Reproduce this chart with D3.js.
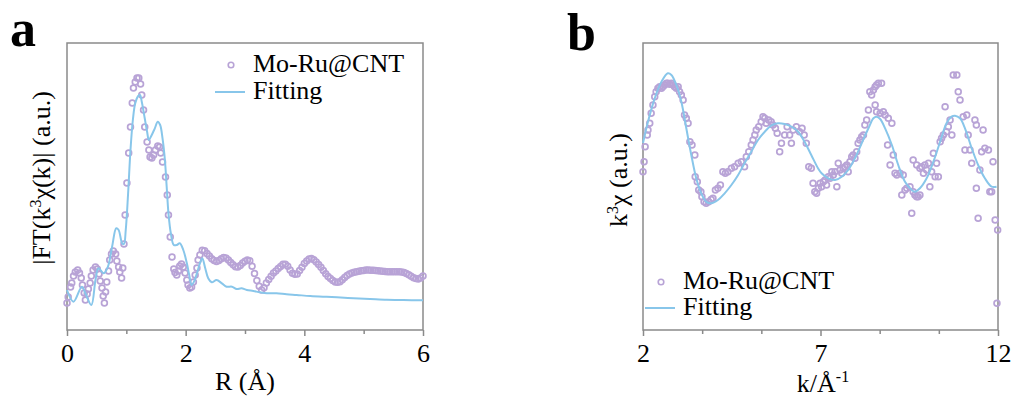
<!DOCTYPE html>
<html>
<head>
<meta charset="utf-8">
<script src="https://cdn.jsdelivr.net/npm/d3@7"></script>
<style>
  body { margin: 0; background: #fff; }
</style>
</head>
<body>
<svg id="chart" width="1017" height="405"></svg>
<script>
// ---------- Panel a: Fourier transform magnitude vs R ----------
const ftTicksMajor = [0, 2, 4, 6];
const ftTicksMinor = [1, 3, 5];
// measured |FT(k^3 chi(k))| : [R (Å), magnitude (a.u.)]
const ftMeasured = [
  [0.00,2.7],[0.02,3.3],[0.06,4.3],[0.08,4.7],[0.11,5.4],[0.14,5.8],[0.18,6.0],[0.21,5.7],[0.24,5.2],[0.26,4.5],
  [0.29,3.7],[0.31,3.0],[0.34,3.6],[0.36,4.1],[0.39,4.7],[0.41,5.4],[0.44,6.0],[0.48,6.3],[0.51,6.1],[0.54,5.6],
  [0.56,4.9],[0.59,4.2],[0.61,3.4],[0.63,2.7],[0.65,3.8],[0.67,4.8],[0.70,5.9],[0.72,7.0],[0.75,7.6],[0.78,7.9],
  [0.82,7.6],[0.84,6.9],[0.87,6.3],[0.89,5.8],[0.92,5.2],[0.94,6.2],[0.96,8.6],[0.98,11.5],[1.01,14.7],[1.04,17.7],
  [1.07,20.3],[1.10,22.7],[1.12,24.2],[1.15,24.8],[1.18,25.2],[1.21,25.2],[1.24,24.6],[1.26,23.5],[1.29,22.0],[1.31,20.3],
  [1.35,18.8],[1.38,18.0],[1.40,17.3],[1.43,17.2],[1.46,17.5],[1.49,18.0],[1.53,18.4],[1.56,18.3],[1.58,17.7],[1.61,16.8],
  [1.66,15.3],[1.69,13.5],[1.71,11.5],[1.74,9.3],[1.77,7.3],[1.80,6.1],[1.82,5.75],[1.85,5.5],[1.88,5.9],[1.90,6.4],
  [1.93,6.6],[1.96,6.3],[1.99,5.7],[2.02,5.0],[2.04,4.5],[2.07,4.2],[2.10,4.3],[2.13,4.8],[2.16,5.5],[2.19,6.2],
  [2.21,7.0],[2.24,7.5],
  [2.28,7.97],[2.32,7.92],[2.36,7.64],[2.40,7.39],[2.44,7.12],[2.48,6.96],[2.52,6.84],[2.56,6.94],[2.60,7.13],[2.64,7.26],
  [2.68,7.19],[2.72,6.99],[2.76,6.75],[2.80,6.52],[2.84,6.32],[2.88,6.30],[2.92,6.45],[2.96,6.70],[3.00,6.88],[3.04,6.99],
  [3.08,6.92],[3.12,6.38],[3.16,5.65],[3.20,4.94],[3.24,4.38],[3.28,4.01],[3.32,4.22],[3.36,4.71],[3.40,5.05],[3.44,5.37],
  [3.48,5.71],[3.52,5.91],[3.56,6.15],[3.60,6.36],[3.64,6.57],[3.68,6.57],[3.72,6.38],[3.76,5.99],[3.80,5.67],[3.84,5.57],
  [3.88,5.60],[3.92,5.94],[3.96,6.28],[4.00,6.66],[4.04,6.90],[4.08,7.10],[4.12,7.14],[4.16,7.03],[4.20,6.81],[4.24,6.55],
  [4.28,6.28],[4.32,5.94],[4.36,5.62],[4.40,5.35],[4.44,5.16],[4.48,4.94],[4.52,4.81],[4.56,4.77],[4.60,4.83],[4.64,5.02],
  [4.68,5.26],[4.72,5.45],[4.76,5.60],[4.80,5.69],[4.84,5.77],[4.88,5.83],[4.92,5.88],[4.96,5.92],[5.00,5.95],[5.04,5.99],
  [5.08,5.99],[5.12,5.98],[5.16,5.97],[5.20,5.95],[5.24,5.92],[5.28,5.90],[5.32,5.87],[5.36,5.84],[5.40,5.83],[5.44,5.83],
  [5.48,5.83],[5.52,5.83],[5.56,5.83],[5.60,5.83],[5.64,5.80],[5.68,5.76],[5.72,5.64],[5.76,5.52],[5.80,5.37],[5.84,5.22],
  [5.88,5.14],[5.92,5.11],[5.96,5.21],[6.00,5.40]
];
// fitted |FT| : [R (Å), magnitude (a.u.)]
const ftFit = [
  [0.00,4.0],[0.11,2.83],[0.25,4.33],[0.31,3.67],[0.41,2.5],[0.48,5.0],[0.53,6.17],[0.62,5.67],[0.69,6.33],[0.76,8.33],
  [0.83,10.17],[0.87,10.0],[0.93,8.67],[0.96,8.6],[0.99,10.0],[1.03,13.67],[1.07,18.0],[1.11,21.0],[1.15,22.67],[1.20,23.4],
  [1.23,23.5],[1.26,22.83],[1.31,21.17],[1.35,19.83],[1.38,19.0],[1.42,19.4],[1.48,20.17],[1.53,20.83],[1.57,20.5],[1.61,19.17],
  [1.65,17.0],[1.68,14.33],[1.71,11.67],[1.75,9.67],[1.80,8.5],[1.85,8.5],[1.90,8.67],[1.96,8.0],[2.02,6.67],[2.06,5.5],
  [2.10,4.5],[2.14,4.83],[2.19,5.67],[2.24,6.67],[2.28,7.17],[2.33,6.17],[2.38,5.17],[2.44,4.77],[2.52,5.0],[2.61,4.67],
  [2.69,4.33],[2.78,4.33],[2.86,4.1],[2.94,4.17],[3.03,4.0],[3.14,3.9],[3.25,3.77],[3.37,3.67],[3.53,3.67],[3.70,3.57],
  [3.87,3.5],[4.10,3.4],[4.32,3.33],[4.55,3.27],[4.83,3.17],[5.11,3.1],[5.39,3.03],[5.67,3.0],[6.00,2.97]
];

// ---------- Panel b: k^3-weighted EXAFS oscillation ----------
const kTicksMajor = [2, 7, 12];
const kTicksMinor = [11 / 3, 16 / 3, 26 / 3, 31 / 3];
// measured k^3 chi(k) : [k (Å^-1), k^3 chi (a.u.)]
const kMeasured = [
  [2.00,1.48],[2.03,2.48],[2.06,3.98],[2.12,5.15],[2.14,5.65],[2.19,6.32],[2.23,7.32],[2.28,8.15],[2.33,8.98],[2.37,9.48],
  [2.42,9.82],[2.47,9.98],[2.52,9.82],[2.56,9.98],[2.61,10.15],[2.66,10.32],[2.70,10.32],[2.75,10.22],[2.80,10.32],[2.85,10.15],
  [2.89,9.98],[2.94,9.82],[2.99,9.98],[3.03,9.48],[3.08,9.15],[3.13,8.65],[3.17,7.15],[3.22,6.82],[3.27,6.32],[3.32,4.48],
  [3.38,4.15],[3.46,3.15],[3.47,0.98],[3.53,0.48],[3.57,-0.35],[3.63,-0.52],[3.66,-1.02],[3.72,-1.52],[3.78,-1.68],[3.85,-1.52],
  [3.92,-1.30],[3.97,-1.18],[4.04,-0.35],[4.11,-0.18],[4.18,0.15],[4.25,1.48],[4.32,1.32],[4.39,1.48],[4.49,1.82],[4.58,1.98],
  [4.68,2.32],[4.77,2.48],[4.86,1.98],[4.91,2.98],[4.98,3.48],[5.05,4.15],[5.10,4.65],[5.15,5.15],[5.19,5.65],[5.26,5.98],
  [5.33,6.48],[5.38,6.98],[5.43,6.82],[5.47,6.32],[5.54,6.65],[5.61,6.48],[5.66,6.15],[5.73,5.82],[5.78,5.32],[5.85,3.48],
  [5.90,4.32],[5.99,5.15],[6.06,5.98],[6.13,5.15],[6.18,4.32],[6.23,5.65],[6.32,5.98],[6.41,5.48],[6.48,5.82],[6.54,5.15],
  [6.60,4.32],[6.67,1.98],[6.74,1.82],[6.79,0.32],[6.84,-0.52],[6.89,-0.68],[6.94,-0.18],[6.99,0.32],[7.03,-0.02],[7.08,0.48],
  [7.13,0.65],[7.17,0.15],[7.22,0.98],[7.27,0.82],[7.32,1.48],[7.36,1.15],[7.41,1.48],[7.46,-0.02],[7.50,2.32],[7.55,1.65],
  [7.60,1.32],[7.64,1.82],[7.69,1.98],[7.74,2.15],[7.78,1.48],[7.83,2.48],[7.88,2.98],[7.92,3.15],[7.97,2.82],[8.02,3.48],
  [8.06,4.32],[8.11,4.65],[8.16,4.98],[8.21,5.15],[8.25,6.15],[8.30,6.65],[8.35,7.65],[8.39,9.48],[8.44,9.15],[8.49,9.65],
  [8.54,9.98],[8.54,8.15],[8.58,10.15],[8.58,7.48],[8.63,10.32],[8.68,7.32],[8.72,10.32],[8.77,7.48],[8.82,7.15],[8.89,4.15],
  [8.91,6.82],[8.96,2.15],[9.01,6.32],[9.05,3.15],[9.10,1.32],[9.15,1.15],[9.24,1.32],[9.29,-0.85],[9.33,1.15],[9.38,-0.35],
  [9.43,-0.18],[9.52,-0.02],[9.57,-2.68],[9.61,-0.52],[9.61,2.65],[9.66,-0.85],[9.71,-1.02],[9.71,2.15],[9.75,-1.02],[9.80,-0.85],
  [9.80,1.82],[9.85,1.98],[9.90,1.32],[9.94,2.15],[9.99,1.65],[10.04,2.32],[10.08,-0.02],[10.13,1.48],[10.18,3.32],[10.23,0.98],
  [10.27,2.32],[10.32,0.98],[10.37,4.48],[10.41,4.82],[10.46,5.15],[10.51,7.98],[10.55,5.48],[10.60,5.98],[10.65,6.65],[10.70,5.15],
  [10.74,11.15],[10.84,11.15],[10.88,9.48],[10.93,8.65],[11.02,6.98],[11.07,3.65],[11.12,7.15],[11.16,5.15],[11.21,3.65],[11.26,2.32],
  [11.35,6.65],[11.39,6.15],[11.39,-0.18],[11.44,-3.18],[11.49,1.65],[11.54,3.48],[11.58,5.65],[11.63,3.82],[11.73,3.65],[11.77,-0.52],
  [11.82,-0.52],[11.86,2.48],[11.92,-3.35],[11.99,-4.35],[11.97,-11.68]
];
// fitted k^3 chi(k) : [k (Å^-1), k^3 chi (a.u.)]
const kFit = [
  [2.00,4.35],[2.14,6.48],[2.33,8.82],[2.52,10.48],[2.70,11.32],[2.80,11.15],[2.94,10.15],[3.08,8.48],[3.22,5.82],[3.36,3.15],
  [3.50,0.82],[3.64,-0.68],[3.78,-1.52],[3.92,-1.68],[4.11,-1.35],[4.30,-0.68],[4.49,0.15],[4.68,1.15],[4.86,2.32],[5.05,3.48],
  [5.24,4.65],[5.43,5.48],[5.61,6.08],[5.80,6.32],[5.99,6.25],[6.18,5.98],[6.37,5.48],[6.55,4.48],[6.74,3.15],[6.93,1.82],
  [7.03,1.32],[7.22,0.82],[7.41,0.65],[7.60,0.98],[7.78,1.65],[7.97,2.82],[8.16,4.32],[8.35,5.82],[8.49,6.82],[8.58,6.98],
  [8.68,6.75],[8.82,5.82],[9.01,4.15],[9.19,2.15],[9.38,0.48],[9.57,-0.35],[9.66,-0.52],[9.80,-0.18],[9.99,0.82],[10.18,2.48],
  [10.37,4.48],[10.55,6.32],[10.69,6.98],[10.79,7.08],[10.93,6.82],[11.07,5.82],[11.26,3.82],[11.44,2.15],[11.63,0.82],[11.82,-0.02],
  [11.96,-0.02]
];

const seriesNames = ["Mo-Ru@CNT", "Fitting"];

// ---------- styling ----------
const dotColor = "#b8a3d6";
const lineColor = "#88c6ea";
const frameColor = "#8a8a8a";
const fontSize = 26;
const serif = '"Times New Roman", "Liberation Serif", Tinos, Times, "DejaVu Serif", serif';

const svg = d3.select("#chart");

// every text element gets the serif face explicitly
function serifText(sel, size) {
  return sel.attr("font-family", serif)
    .style("font-family", serif)
    .style("font-size", size + "px")
    .attr("fill", "#000");
}

function drawPanel(cfg) {
  const x = d3.scaleLinear().domain(cfg.xDomain).range([cfg.left, cfg.right]);
  const y = d3.scaleLinear().domain(cfg.yDomain).range([cfg.bottom, cfg.top]);
  const g = svg.append("g").attr("font-family", serif);

  // minor ticks
  g.append("g")
    .attr("transform", `translate(0,${cfg.bottom})`)
    .call(d3.axisBottom(x).tickValues(cfg.minor).tickSize(4).tickSizeOuter(0).tickFormat(""))
    .call(a => a.select(".domain").remove())
    .call(a => a.selectAll("line").attr("stroke", frameColor).attr("stroke-width", 1.5));

  // major ticks with labels
  g.append("g")
    .attr("transform", `translate(0,${cfg.bottom})`)
    .call(d3.axisBottom(x).tickValues(cfg.major).tickSize(6).tickSizeOuter(0).tickPadding(7.5).tickFormat(d3.format("d")))
    .call(a => a.attr("font-family", serif))
    .call(a => a.select(".domain").remove())
    .call(a => a.selectAll("line").attr("stroke", frameColor).attr("stroke-width", 1.5))
    .call(a => serifText(a.selectAll("text"), fontSize));

  // frame
  g.append("rect")
    .attr("x", cfg.left).attr("y", cfg.top)
    .attr("width", cfg.right - cfg.left).attr("height", cfg.bottom - cfg.top)
    .attr("fill", "none").attr("stroke", frameColor).attr("stroke-width", 1.5);

  // measured points (hollow circles)
  g.append("g").selectAll("circle")
    .data(cfg.measured)
    .join("circle")
    .attr("cx", d => x(d[0]))
    .attr("cy", d => y(d[1]))
    .attr("r", 2.9)
    .attr("fill", "none")
    .attr("stroke", dotColor)
    .attr("stroke-width", 1.7);

  // fitted curve
  g.append("path")
    .datum(cfg.fit)
    .attr("fill", "none")
    .attr("stroke", lineColor)
    .attr("stroke-width", 2)
    .attr("stroke-linejoin", "round")
    .attr("d", d3.line().x(d => x(d[0])).y(d => y(d[1])).curve(d3.curveCatmullRom.alpha(0.5)));

  // legend
  const L = cfg.legend;
  g.append("circle")
    .attr("cx", L.x + 16).attr("cy", L.y1 - 7).attr("r", 2.8)
    .attr("fill", "none").attr("stroke", dotColor).attr("stroke-width", 1.6);
  serifText(g.append("text").attr("x", L.x + 38).attr("y", L.y1), fontSize).text(seriesNames[0]);
  g.append("line")
    .attr("x1", L.x).attr("x2", L.x + 30)
    .attr("y1", L.y2 - 7).attr("y2", L.y2 - 7)
    .attr("stroke", lineColor).attr("stroke-width", 2);
  serifText(g.append("text").attr("x", L.x + 38).attr("y", L.y2), fontSize).text(seriesNames[1]);

  // panel letter
  serifText(g.append("text").attr("x", cfg.letter.x).attr("y", cfg.letter.y), cfg.letter.size)
    .style("font-weight", "bold")
    .text(cfg.letter.text);

  return { x, y, g };
}

// panel a
const pa = drawPanel({
  left: 67, right: 423, top: 43, bottom: 330,
  xDomain: [0, 6], yDomain: [0, 28.7],
  major: ftTicksMajor, minor: ftTicksMinor,
  measured: ftMeasured, fit: ftFit,
  legend: { x: 215, y1: 72, y2: 99 },
  letter: { x: 10, y: 46, text: "a", size: 52 }
});
serifText(pa.g.append("text"), fontSize)
  .attr("x", 245).attr("y", 390)
  .attr("text-anchor", "middle")
  .text("R (Å)");
const ya = serifText(pa.g.append("text"), fontSize)
  .attr("transform", "translate(50,178) rotate(-90)")
  .attr("text-anchor", "middle");
ya.append("tspan").text("|FT(k");
ya.append("tspan").attr("dy", -9).style("font-size", "16px").text("3");
ya.append("tspan").attr("dy", 9).text("χ(k)| (a.u.)");

// panel b
const pb = drawPanel({
  left: 643, right: 998, top: 43, bottom: 330,
  xDomain: [2, 12], yDomain: [-14.35, 14.35],
  major: kTicksMajor, minor: kTicksMinor,
  measured: kMeasured, fit: kFit,
  legend: { x: 645, y1: 289, y2: 315 },
  letter: { x: 567, y: 50, text: "b", size: 52 }
});
const xb = serifText(pb.g.append("text"), fontSize)
  .attr("x", 823).attr("y", 392)
  .attr("text-anchor", "middle");
xb.append("tspan").text("k/Å");
xb.append("tspan").attr("dy", -10).style("font-size", "16px").text("-1");
const yb = serifText(pb.g.append("text"), fontSize)
  .attr("transform", "translate(627,180) rotate(-90)")
  .attr("text-anchor", "middle");
yb.append("tspan").text("k");
yb.append("tspan").attr("dy", -9).style("font-size", "16px").text("3");
yb.append("tspan").attr("dy", 9).text("χ (a.u.)");
</script>
</body>
</html>
